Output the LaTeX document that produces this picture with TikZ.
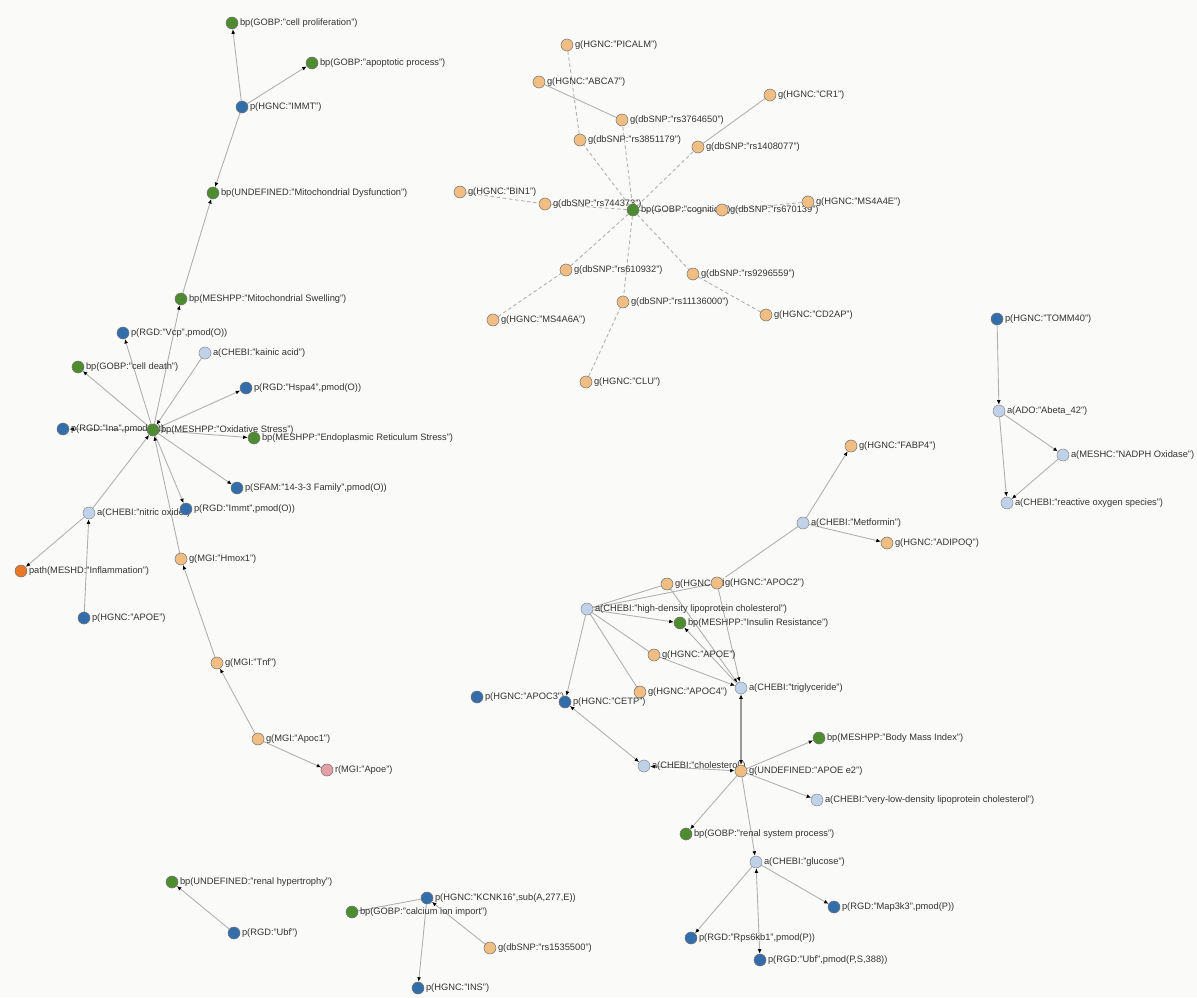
\documentclass[tikz,border=0pt]{standalone}
\usepackage{fontspec}
\setmainfont{Liberation Sans}
\usetikzlibrary{arrows.meta,backgrounds}

\definecolor{hgfarbe}{RGB}{250,250,248}
\definecolor{bpfarbe}{RGB}{78,140,48}
\definecolor{pfarbe}{RGB}{52,110,170}
\definecolor{afarbe}{RGB}{192,210,234}
\definecolor{gfarbe}{RGB}{240,190,130}
\definecolor{pathfarbe}{RGB}{230,120,40}
\definecolor{rfarbe}{RGB}{228,160,165}
\definecolor{kantenfarbe}{RGB}{176,176,176}

\tikzset{
	beschr/.style={font=\fontsize{5.3}{6}\selectfont, text=black!80, inner sep=0.8pt},
	knoten/.style={circle, minimum size=2.4mm, inner sep=0pt, draw=black!55, line width=0.3pt},
	bpknoten/.style={knoten, fill=bpfarbe, label={[beschr]right:{#1}}},
	pknoten/.style={knoten, fill=pfarbe, label={[beschr]right:{#1}}},
	aknoten/.style={knoten, fill=afarbe, draw=black!45, label={[beschr]right:{#1}}},
	gknoten/.style={knoten, fill=gfarbe, label={[beschr]right:{#1}}},
	pathknoten/.style={knoten, fill=pathfarbe, label={[beschr]right:{#1}}},
	rknoten/.style={knoten, fill=rfarbe, label={[beschr]right:{#1}}},
	kante/.style={draw=kantenfarbe, line width=0.5pt},
	pfeil/.style={kante, ->},
	doppel/.style={kante, <->},
	snp/.style={kante, dash pattern=on 2pt off 1.5pt},
	>={Latex[length=2.6pt,width=2.2pt,color=black]}
}

\begin{document}
\begin{tikzpicture}[x=0.2mm, y=-0.2mm]
	\useasboundingbox (0,0) rectangle (1197,997);
	% Mitochondrien oben links
	\node[bpknoten={bp(GOBP:"cell proliferation")}] (prolif) at (232,23) {};
	\node[bpknoten={bp(GOBP:"apoptotic process")}] (apopt) at (312,63) {};
	\node[pknoten={p(HGNC:"IMMT")}] (immt) at (242,107) {};
	\node[bpknoten={bp(UNDEFINED:"Mitochondrial Dysfunction")}] (mitodys) at (213,193) {};
	\node[bpknoten={bp(MESHPP:"Mitochondrial Swelling")}] (mitoswell) at (181,299) {};
	% Oxidativer Stress
	\node[pknoten={p(RGD:"Ina",pmod(O))}] (ina) at (63,429) {};
	\node[bpknoten={bp(MESHPP:"Oxidative Stress")}] (oxstress) at (153,430) {};
	\node[pknoten={p(RGD:"Vcp",pmod(O))}] (vcp) at (123,333) {};
	\node[aknoten={a(CHEBI:"kainic acid")}] (kainic) at (205,353) {};
	\node[bpknoten={bp(GOBP:"cell death")}] (celldeath) at (78,367) {};
	\node[pknoten={p(RGD:"Hspa4",pmod(O))}] (hspa4) at (246,388) {};
	\node[bpknoten={bp(MESHPP:"Endoplasmic Reticulum Stress")}] (erstress) at (254,438) {};
	\node[pknoten={p(SFAM:"14-3-3 Family",pmod(O))}] (fam1433) at (237,488) {};
	\node[aknoten={a(CHEBI:"nitric oxide")}] (nitric) at (89,513) {};
	\node[pknoten={p(RGD:"Immt",pmod(O))}] (immtrgd) at (186,509) {};
	\node[pathknoten={path(MESHD:"Inflammation")}] (inflam) at (21,571) {};
	\node[pknoten={p(HGNC:"APOE")}] (apoeP) at (84,618) {};
	\node[gknoten={g(MGI:"Hmox1")}] (hmox1) at (181,559) {};
	\node[gknoten={g(MGI:"Tnf")}] (tnf) at (217,663) {};
	\node[gknoten={g(MGI:"Apoc1")}] (apoc1) at (258,739) {};
	\node[rknoten={r(MGI:"Apoe")}] (apoeR) at (327,770) {};
	% Kognition und SNPs
	\node[gknoten={g(HGNC:"PICALM")}] (picalm) at (567,45) {};
	\node[gknoten={g(HGNC:"ABCA7")}] (abca7) at (539,82) {};
	\node[gknoten={g(dbSNP:"rs3764650")}] (rs3764650) at (622,120) {};
	\node[gknoten={g(HGNC:"CR1")}] (cr1) at (770,95) {};
	\node[gknoten={g(dbSNP:"rs3851179")}] (rs3851179) at (580,140) {};
	\node[gknoten={g(dbSNP:"rs1408077")}] (rs1408077) at (698,147) {};
	\node[gknoten={g(HGNC:"BIN1")}] (bin1) at (460,192) {};
	\node[gknoten={g(dbSNP:"rs744373")}] (rs744373) at (545,204) {};
	\node[bpknoten={bp(GOBP:"cognition")}] (cognition) at (633,210) {};
	\node[gknoten={g(dbSNP:"rs670139")}] (rs670139) at (722,210) {};
	\node[gknoten={g(HGNC:"MS4A4E")}] (ms4a4e) at (808,202) {};
	\node[gknoten={g(dbSNP:"rs610932")}] (rs610932) at (566,270) {};
	\node[gknoten={g(dbSNP:"rs9296559")}] (rs9296559) at (693,274) {};
	\node[gknoten={g(dbSNP:"rs11136000")}] (rs11136000) at (623,302) {};
	\node[gknoten={g(HGNC:"MS4A6A")}] (ms4a6a) at (493,320) {};
	\node[gknoten={g(HGNC:"CD2AP")}] (cd2ap) at (766,315) {};
	\node[gknoten={g(HGNC:"CLU")}] (clu) at (586,382) {};
	% TOMM40 rechts
	\node[pknoten={p(HGNC:"TOMM40")}] (tomm40) at (997,319) {};
	\node[aknoten={a(ADO:"Abeta\_42")}] (abeta) at (999,411) {};
	\node[aknoten={a(MESHC:"NADPH Oxidase")}] (nadph) at (1063,455) {};
	\node[aknoten={a(CHEBI:"reactive oxygen species")}] (ros) at (1007,503) {};
	% Lipide unten rechts
	\node[gknoten={g(HGNC:"FABP4")}] (fabp4) at (851,446) {};
	\node[aknoten={a(CHEBI:"Metformin")}] (metformin) at (803,523) {};
	\node[gknoten={g(HGNC:"ADIPOQ")}] (adipoq) at (887,543) {};
	\node[gknoten={g(HGNC:"APOC3")}] (apoc3) at (667,584) {};
	\node[knoten, fill=gfarbe, label={[beschr, fill=hgfarbe]right:{g(HGNC:"APOC2")}}] (apoc2) at (717,583) {};
	\node[aknoten={a(CHEBI:"high-density lipoprotein cholesterol")}] (hdl) at (587,609) {};
	\node[bpknoten={bp(MESHPP:"Insulin Resistance")}] (insulin) at (680,623) {};
	\node[gknoten={g(HGNC:"APOE")}] (apoeG) at (654,655) {};
	\node[gknoten={g(HGNC:"APOC4")}] (apoc4) at (640,692) {};
	\node[aknoten={a(CHEBI:"triglyceride")}] (trig) at (741,688) {};
	\node[pknoten={p(HGNC:"APOC3")}] (apocP) at (477,697) {};
	\node[pknoten={p(HGNC:"CETP")}] (cetp) at (565,702) {};
	\node[bpknoten={bp(MESHPP:"Body Mass Index")}] (bmi) at (819,738) {};
	\node[aknoten={a(CHEBI:"cholesterol")}] (chol) at (644,766) {};
	\node[gknoten={g(UNDEFINED:"APOE e2")}] (apoee2) at (741,771) {};
	\node[aknoten={a(CHEBI:"very-low-density lipoprotein cholesterol")}] (vldl) at (817,800) {};
	\node[bpknoten={bp(GOBP:"renal system process")}] (renal) at (686,834) {};
	\node[aknoten={a(CHEBI:"glucose")}] (glucose) at (756,862) {};
	\node[pknoten={p(RGD:"Map3k3",pmod(P))}] (map3k3) at (834,907) {};
	\node[pknoten={p(RGD:"Rps6kb1",pmod(P))}] (rps6kb1) at (691,938) {};
	\node[pknoten={p(RGD:"Ubf",pmod(P,S,388))}] (ubfP) at (760,960) {};
	% unten links
	\node[bpknoten={bp(UNDEFINED:"renal hypertrophy")}] (renhyper) at (172,882) {};
	\node[pknoten={p(RGD:"Ubf")}] (ubf) at (234,933) {};
	\node[bpknoten={bp(GOBP:"calcium ion import")}] (calcium) at (352,912) {};
	\node[pknoten={p(HGNC:"KCNK16",sub(A,277,E))}] (kcnk16) at (427,898) {};
	\node[gknoten={g(dbSNP:"rs1535500")}] (rs1535500) at (490,948) {};
	\node[pknoten={p(HGNC:"INS")}] (ins) at (418,988) {};

	\begin{pgfonlayer}{background}
		\fill[hgfarbe] (0,0) rectangle (1197,997);
		% Kanten
		\draw[pfeil] (immt) -- (prolif);
		\draw[pfeil] (immt) -- (apopt);
		\draw[pfeil] (immt) -- (mitodys);
		\draw[pfeil] (mitoswell) -- (mitodys);
		\draw[pfeil] (oxstress) -- (mitoswell);
		\foreach \ziel in {vcp,celldeath,hspa4,ina,erstress,fam1433,immtrgd}
			\draw[pfeil] (oxstress) -- (\ziel);
		\draw[pfeil] (kainic) -- (oxstress);
		\draw[pfeil] (nitric) -- (oxstress);
		\draw[pfeil] (hmox1) -- (oxstress);
		\draw[pfeil] (nitric) -- (inflam);
		\draw[pfeil] (apoeP) -- (nitric);
		\draw[pfeil] (tnf) -- (hmox1);
		\draw[pfeil] (apoc1) -- (tnf);
		\draw[pfeil] (apoc1) -- (apoeR);
		% SNPs
		\draw[snp] (picalm) -- (rs3851179);
		\draw[kante] (abca7) -- (rs3764650);
		\draw[kante] (cr1) -- (rs1408077);
		\draw[snp] (bin1) -- (rs744373);
		\draw[snp] (ms4a4e) -- (rs670139);
		\draw[snp] (ms4a6a) -- (rs610932);
		\draw[snp] (cd2ap) -- (rs9296559);
		\draw[snp] (clu) -- (rs11136000);
		\foreach \snpname in {rs3764650,rs3851179,rs1408077,rs744373,rs670139,rs610932,rs9296559,rs11136000}
			\draw[snp] (cognition) -- (\snpname);
		% TOMM40
		\draw[pfeil] (tomm40) -- (abeta);
		\draw[pfeil] (abeta) -- (nadph);
		\draw[pfeil] (abeta) -- (ros);
		\draw[pfeil] (nadph) -- (ros);
		% Lipide
		\draw[pfeil] (metformin) -- (fabp4);
		\draw[pfeil] (metformin) -- (adipoq);
		\draw[kante] (metformin) -- (apoc2);
		\draw[kante] (hdl) -- (apoc3);
		\draw[kante] (hdl) -- (apoc2);
		\draw[pfeil] (hdl) -- (insulin);
		\draw[kante] (hdl) -- (apoeG);
		\draw[kante] (hdl) -- (apoc4);
		\draw[pfeil] (hdl) -- (cetp);
		\draw[pfeil] (apoc3) -- (trig);
		\draw[pfeil] (apoc2) -- (trig);
		\draw[pfeil] (apoeG) -- (trig);
		\draw[pfeil] (trig) -- (insulin);
		\draw[doppel, line width=1.2pt, draw=black!40] (trig) -- (apoee2);
		\draw[doppel] (cetp) -- (chol);
		\draw[doppel] (chol) -- (apoee2);
		\draw[pfeil] (apoee2) -- (bmi);
		\draw[pfeil] (apoee2) -- (vldl);
		\draw[pfeil] (apoee2) -- (renal);
		\draw[pfeil] (apoee2) -- (glucose);
		\draw[pfeil] (glucose) -- (map3k3);
		\draw[pfeil] (glucose) -- (rps6kb1);
		\draw[doppel] (glucose) -- (ubfP);
		% unten
		\draw[pfeil] (ubf) -- (renhyper);
		\draw[kante] (kcnk16) -- (calcium);
		\draw[pfeil] (rs1535500) -- (kcnk16);
		\draw[pfeil] (kcnk16) -- (ins);
	\end{pgfonlayer}
\end{tikzpicture}
\end{document}
